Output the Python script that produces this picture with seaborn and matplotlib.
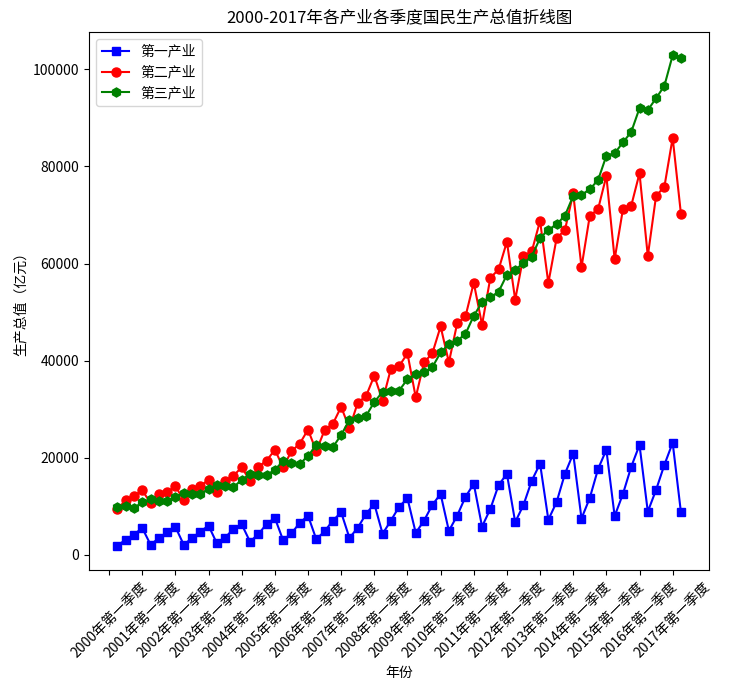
import numpy as np
import pandas as pd
import seaborn as sns
import matplotlib
matplotlib.use("Agg")
import matplotlib.pyplot as plt

plt.rcParams['font.family'] = ['Noto Sans CJK SC', 'DejaVu Sans']
plt.rcParams['axes.unicode_minus'] = False

years = list(range(2000, 2017))
quarter_names = ["第一季度", "第二季度", "第三季度", "第四季度"]
quarters = [f"{y}年{q}" for y in years for q in quarter_names] + ["2017年第一季度"]

primary = [1900, 3150, 4180, 5550,
           2120, 3430, 4660, 5760,
           2120, 3430, 4800, 6030,
           2400, 3560, 5350, 6300,
           2740, 4250, 6370, 7610,
           3020, 4450, 6580, 8090,
           3220, 4870, 7060, 8770,
           3500, 5580, 8430, 10520,
           4350, 7060, 9950, 11660,
           4530, 7060, 10290, 12550,
           4940, 8100, 11950, 14650,
           5830, 9470, 14400, 16700,
           6750, 10290, 15300, 18800,
           7250, 10900, 16700, 20850,
           7500, 11730, 17700, 21650,
           8000, 12550, 18150, 22650,
           8910, 13400, 18550, 23100,
           8750]

secondary = [9400, 11300, 12150, 13300,
             10700, 12500, 12900, 14150,
             11300, 13500, 14200, 15450,
             13050, 15300, 16300, 18050,
             15250, 18150, 19400, 21650,
             18050, 21350, 22900, 25800,
             21400, 25700, 27000, 30500,
             26050, 31350, 32700, 36900,
             31750, 38350, 38900, 41500,
             32450, 39650, 41500, 47050,
             39650, 47700, 49100, 56050,
             47400, 57050, 58800, 64500,
             52550, 61600, 62500, 68800,
             56000, 65250, 66900, 74450,
             59250, 69850, 71200, 78050,
             60900, 71200, 71900, 78600,
             61550, 73950, 75800, 85900,
             70200]

tertiary = [9800, 10050, 9700, 10800,
            11500, 11180, 11180, 12000,
            12750, 12600, 12600, 13580,
            14450, 14100, 13950, 15450,
            16650, 16480, 16400, 17550,
            19300, 18900, 18700, 20400,
            22600, 22350, 22200, 24700,
            27800, 28300, 28600, 31500,
            33550, 33750, 33850, 36200,
            37250, 37600, 38650, 41700,
            43400, 44100, 45500, 49250,
            52000, 53050, 54200, 57700,
            58700, 60100, 61450, 65250,
            66950, 68100, 69850, 73950,
            74150, 75300, 77200, 82200,
            82700, 84950, 87100, 92000,
            91600, 94050, 96600, 102900,
            102300]

tick_labels = [f"{y}年第一季度" for y in range(2000, 2018)]
series_names = ["第一产业", "第二产业", "第三产业"]

df = pd.DataFrame({"idx": np.arange(len(quarters)), "quarter": quarters,
                   series_names[0]: primary, series_names[1]: secondary,
                   series_names[2]: tertiary})

fig = plt.figure(figsize=(7.56, 6.84), dpi=100)
ax = fig.add_axes([0.118, 0.1667, 0.820, 0.7866])

styles = [("blue", "s", 6), ("red", "o", 6.5), ("green", "h", 6.5)]
for name, (c, m, ms) in zip(series_names, styles):
    sns.lineplot(data=df, x="idx", y=name, ax=ax, color=c, marker=m,
                 markersize=ms, markeredgecolor=c,
                 markeredgewidth=1, linewidth=1.5, label=name)

tick_pos = np.arange(len(tick_labels)) * 4 - 1
ax.set_xticks(tick_pos)
ax.set_xticklabels(tick_labels, rotation=45, fontsize=10)
ax.set_xlim(-3.4, 71.4)
ax.set_ylim(-3100, 107700)
ax.set_xlabel("年份", fontsize=10)
ax.set_ylabel("生产总值（亿元）", fontsize=10)
ax.set_title("2000-2017年各产业各季度国民生产总值折线图", fontsize=12)
ax.legend(loc="upper left", fontsize=10)

fig.savefig("out.png", dpi=100)
